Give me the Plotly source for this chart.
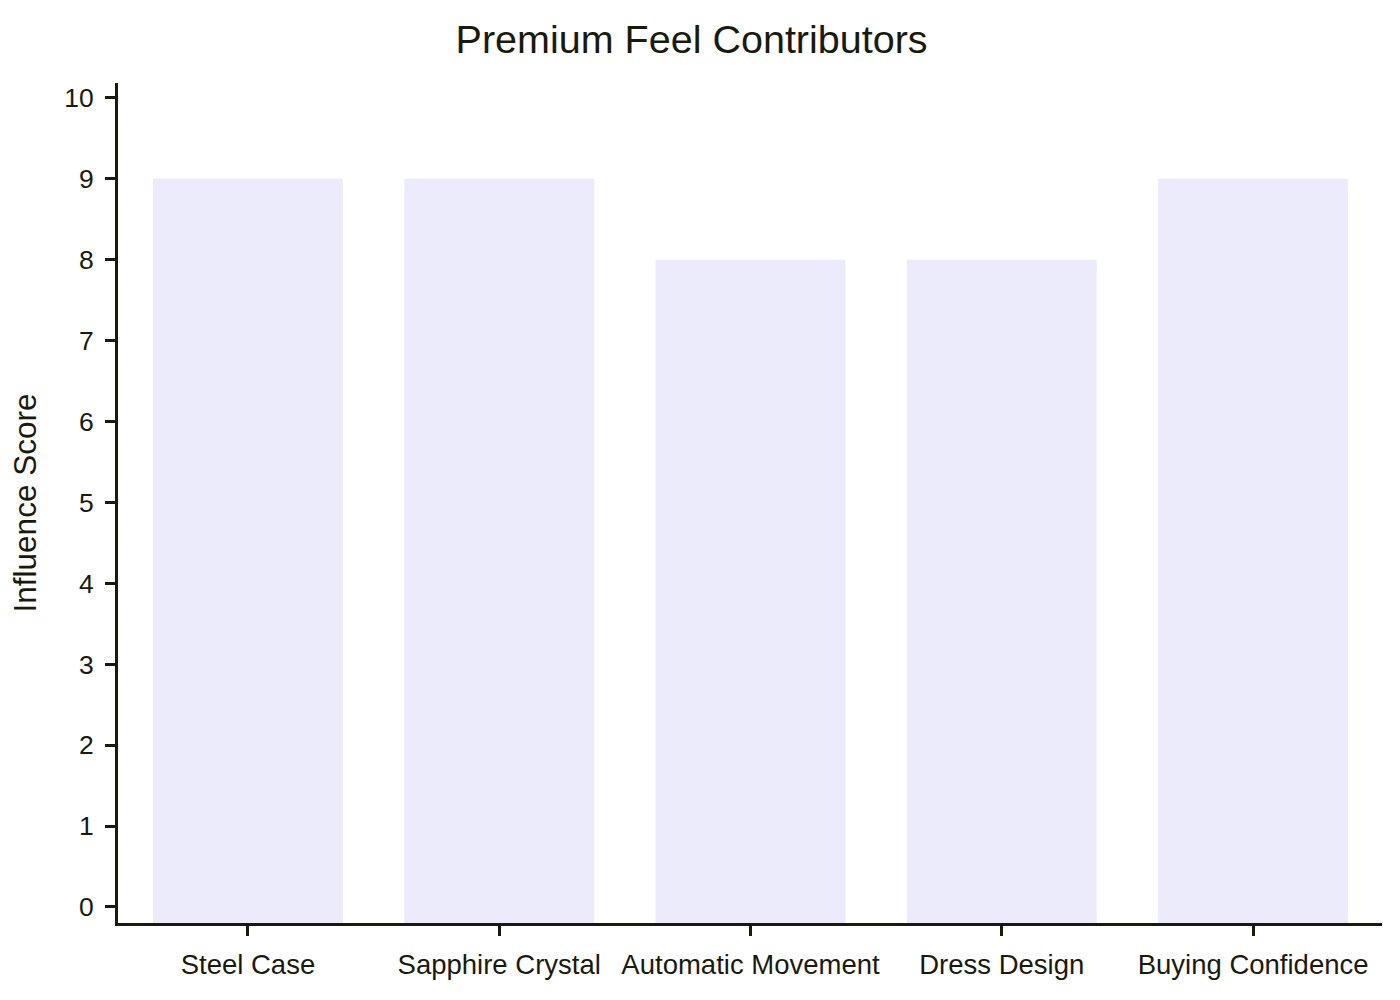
import plotly.graph_objects as go

categories = ["Steel Case", "Sapphire Crystal", "Automatic Movement", "Dress Design", "Buying Confidence"]
scores = [9, 9, 8, 8, 9]
y_ticks = list(range(0, 11))

Y_MIN, Y_MAX = -0.198, 10.185
X_MIN, X_MAX = -0.517, 4.513
INK = "#1a1a0c"
FONT = "Liberation Sans, Arial, sans-serif"

fig = go.Figure(
    go.Bar(
        x=categories,
        y=[s - Y_MIN for s in scores],
        base=Y_MIN,
        marker=dict(color="#ECEBFC", line=dict(width=0)),
        hoverinfo="skip",
    )
)

fig.update_layout(
    width=1400,
    height=1000,
    margin=dict(l=118, r=18, t=83, b=77),
    paper_bgcolor="white",
    plot_bgcolor="white",
    bargap=0.244,
    showlegend=False,
    font=dict(family=FONT, color=INK),
    title=dict(
        text="Premium Feel Contributors",
        x=0.494,
        xref="container",
        xanchor="center",
        y=1 - 39 / 1000,
        yref="container",
        yanchor="middle",
        font=dict(size=39.5, color=INK, family=FONT),
    ),
    xaxis=dict(
        range=[X_MIN, X_MAX],
        showline=True,
        linecolor=INK,
        linewidth=3,
        ticks="outside",
        ticklen=10,
        tickwidth=3,
        tickcolor=INK,
        showgrid=False,
        zeroline=False,
        tickfont=dict(size=27.5, color=INK, family=FONT),
        ticklabelstandoff=5,
    ),
    yaxis=dict(
        range=[Y_MIN, Y_MAX],
        tickvals=y_ticks,
        showline=True,
        linecolor=INK,
        linewidth=3,
        ticks="outside",
        ticklen=10,
        tickwidth=3,
        tickcolor=INK,
        showgrid=False,
        zeroline=False,
        tickfont=dict(size=26.5, color=INK, family=FONT),
        ticklabelstandoff=6,
        title=dict(text="Influence Score", font=dict(size=31.5, color=INK, family=FONT), standoff=19),
    ),
)

fig.write_html("out.html")
